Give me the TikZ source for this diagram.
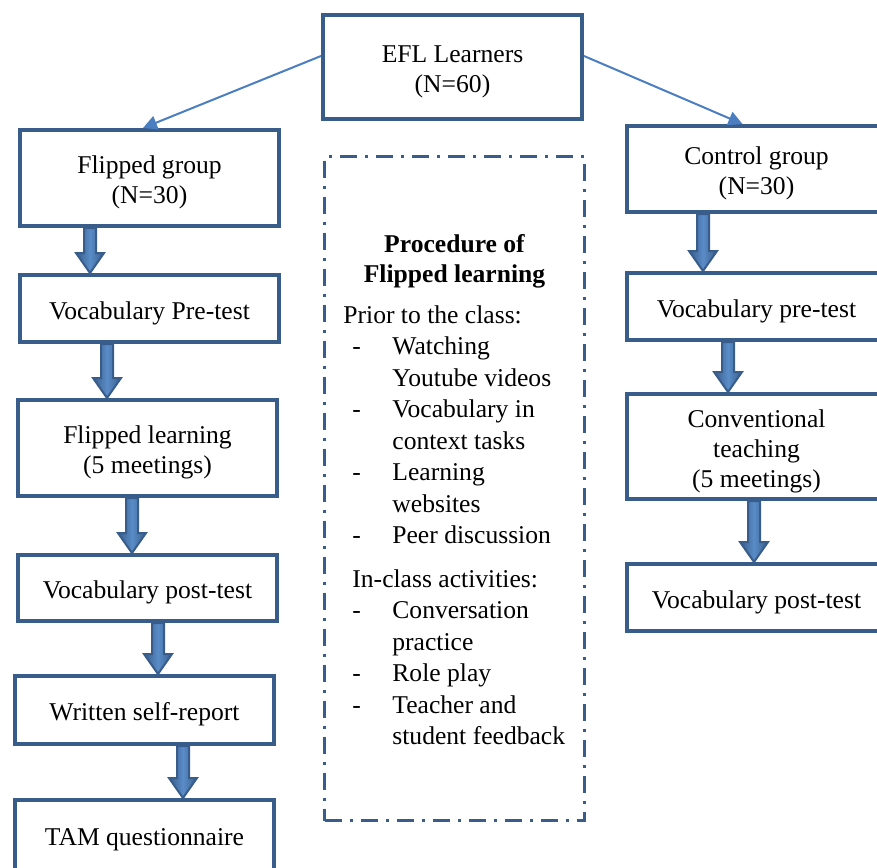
\documentclass[tikz,border=0pt]{standalone}
\usepackage{fontspec}
\setmainfont{Liberation Serif}
\usetikzlibrary{arrows.meta, calc, positioning}
\definecolor{boxblue}{RGB}{56,93,138}
\definecolor{linkblue}{RGB}{74,126,193}
\definecolor{fatlight}{RGB}{90,140,200}
\newcommand\toppad{\rule{0pt}{13.7pt}}
\tikzstyle{flow}=[>={Triangle[length=7pt,width=7pt]}, font=\fontsize{12.8}{15}\selectfont]
\tikzstyle{box}=[draw=boxblue, line width=2pt, minimum width=129.5pt, align=center, inner sep=2pt,
  execute at begin node=\toppad]
\tikzstyle{fat}=[draw=boxblue, line width=1pt, left color=boxblue, right color=boxblue, middle color=fatlight]
\tikzstyle{link}=[->, draw=linkblue, line width=1pt]
\tikzstyle{procbox}=[draw=boxblue, line width=1.5pt, dash pattern=on 8.5pt off 4pt on 1.5pt off 4pt, minimum width=130pt, minimum height=332pt]
\tikzstyle{steps}=[align=left, inner sep=0pt, anchor=north west, font=\fontsize{12.8}{15.75}\selectfont]
\newcommand\dashitem[1]{\makebox[20pt][l]{-}#1}
\newcommand\contline[1]{\hspace*{20pt}#1}
% thick block arrow between two boxes, at a given x
\newcommand\fatarrow[3]{%
  \path (#3,0) coordinate (fx);
  \draw[fat] let \p1=(#1.south -| fx), \p2=(#2.north -| fx) in
    (\x1-3pt,\y1) -- (\x1-3pt,\y2+10pt) -- (\x1-7pt,\y2+10pt) -- (\x1,\y2)
    -- (\x1+7pt,\y2+10pt) -- (\x1+3pt,\y2+10pt) -- (\x1+3pt,\y1) -- cycle;
}

\begin{document}
\begin{tikzpicture}[flow, x=0.5pt, y=-0.5pt]
  \useasboundingbox (0,0) rectangle (877,867);
  \clip (0,0) rectangle (877,867);
  \node[box, minimum height=52pt] (efl) at (452.5,67) {\toppad EFL Learners\\(N=60)};
  % flipped side
  \node[box, minimum height=48pt] (fg) [below left=3.5pt and 20pt of efl] {\toppad Flipped group\\(N=30)};
  \node[box, minimum height=33.5pt] (preL) [below=22.5pt of fg] {Vocabulary Pre-test};
  \node[box, minimum height=48pt] (fl) [below=27pt of preL, xshift=-1pt] {\toppad Flipped learning\\(5 meetings)};
  \node[box, minimum height=33pt] (postL) [below=27.5pt of fl] {Vocabulary post-test};
  \node[box, minimum height=34pt] (wr) [below=25.5pt of postL, xshift=-1.5pt] {Written self-report};
  \node[box, minimum height=35pt] (tam) [below=26pt of wr] {TAM questionnaire};
  % control side
  \node[box, minimum height=43pt] (ctrl) [below right=1.5pt and 20.5pt of efl] {\toppad Control group\\(N=30)};
  \node[box, minimum height=33.5pt] (preR) [below=28.5pt of ctrl] {Vocabulary pre-test};
  \node[box, minimum height=52.5pt] (conv) [below=25pt of preR] {\toppad Conventional\\teaching\\(5 meetings)};
  \node[box, minimum height=33.5pt] (postR) [below=30.5pt of conv] {Vocabulary post-test};
  % procedure
  \node[procbox] (proc) [below=17pt of efl, xshift=1pt] {};
  \node[font=\bfseries\fontsize{12.8}{15}\selectfont, align=center] (ttl) at ([yshift=-53pt]proc.north) {Procedure of\\Flipped learning};
  \node[steps] (prior) at ([shift={(14.5pt,-75pt)}]proc.north west) {\hspace*{-4.5pt}Prior to the class:\\
    \dashitem{Watching}\\ \contline{Youtube videos}\\
    \dashitem{Vocabulary in}\\ \contline{context tasks}\\
    \dashitem{Learning}\\ \contline{websites}\\
    \dashitem{Peer discussion}};
  \node[steps] (incls) at ([shift={(14.5pt,-207pt)}]proc.north west) {In-class activities:\\
    \dashitem{Conversation}\\ \contline{practice}\\
    \dashitem{Role play}\\
    \dashitem{Teacher and}\\ \contline{student feedback}};
  % connectors
  \draw[link] ([yshift=5.5pt]efl.west) -- ([xshift=-3.25pt]fg.north);
  \draw[link] ([yshift=5.5pt]efl.east) -- ([xshift=-7pt]ctrl.north);
  \fatarrow{fg}{preL}{90}
  \fatarrow{preL}{fl}{107}
  \fatarrow{fl}{postL}{132}
  \fatarrow{postL}{wr}{158}
  \fatarrow{wr}{tam}{183}
  \fatarrow{ctrl}{preR}{703}
  \fatarrow{preR}{conv}{728}
  \fatarrow{conv}{postR}{754}
\end{tikzpicture}
\end{document}
